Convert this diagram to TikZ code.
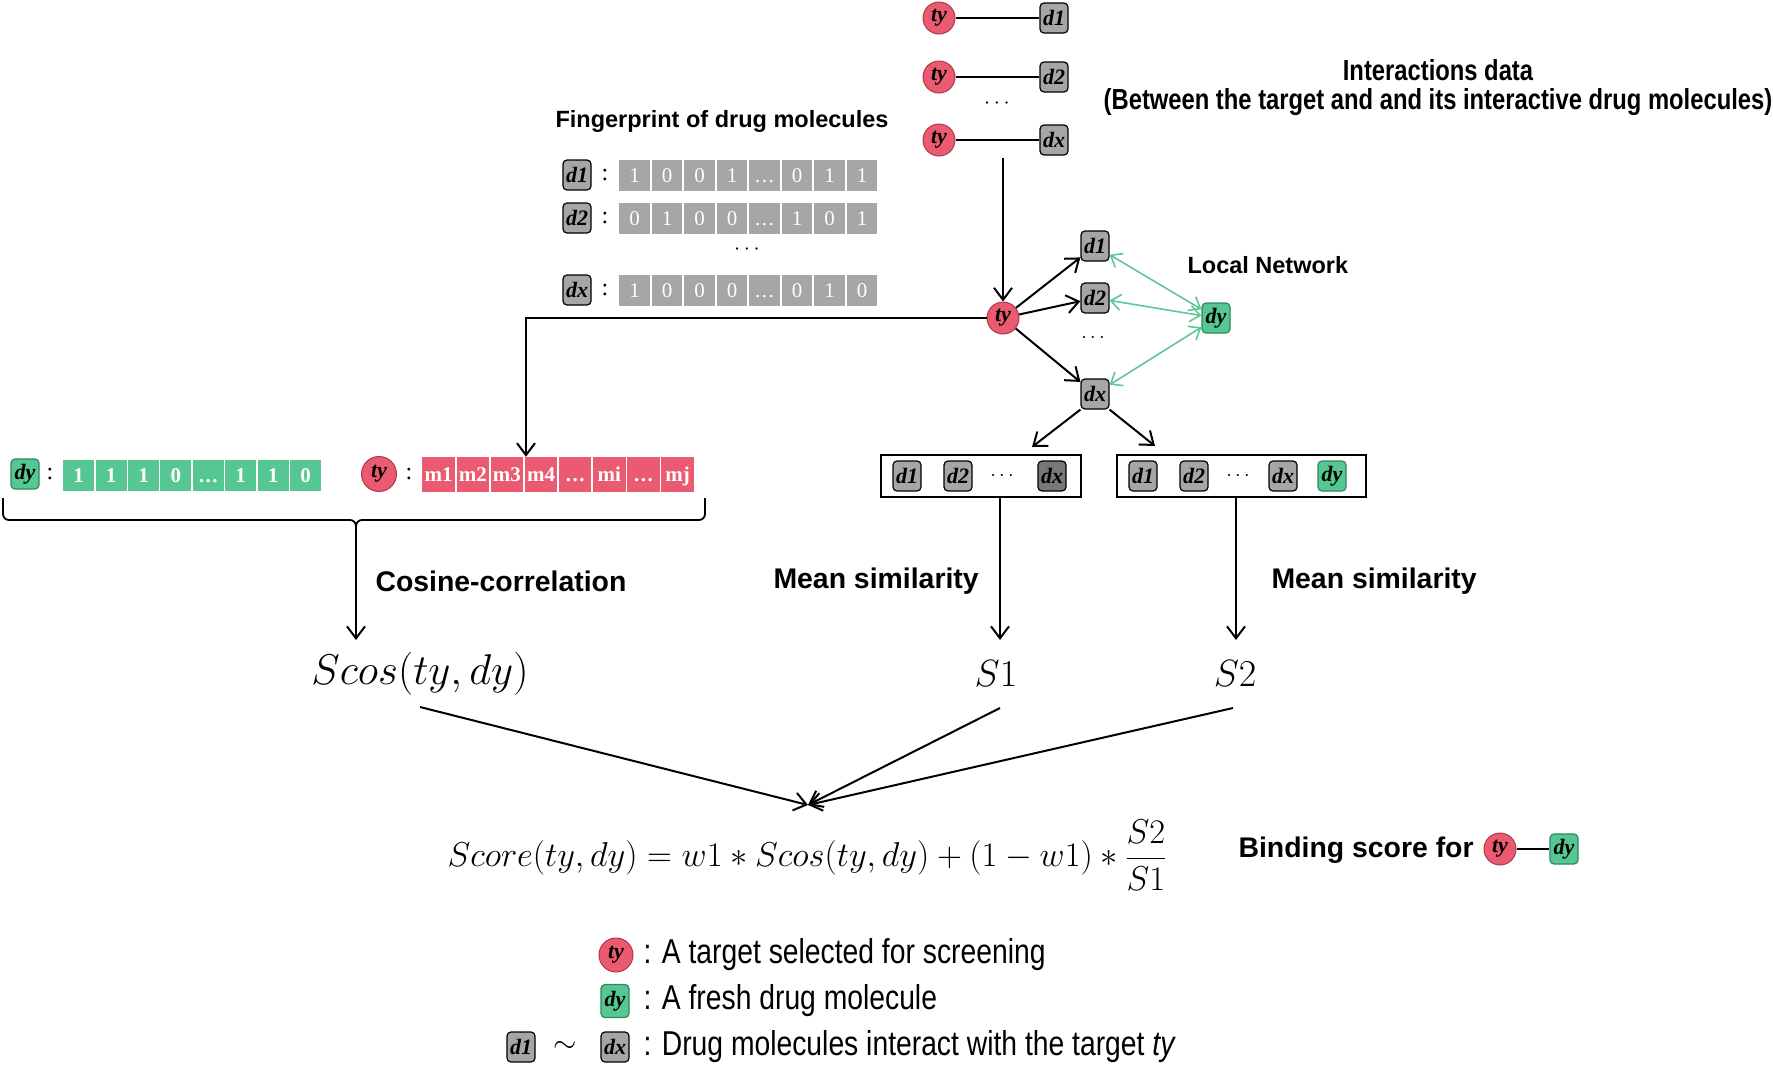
\RequirePackage{fix-cm}
\documentclass[tikz,border=0pt]{standalone}
\usepackage[no-math]{fontspec}
\usepackage{tikz}
\usetikzlibrary{arrows.meta}
\setmainfont{Liberation Sans}
\newfontfamily\serf{Liberation Serif}
\newfontfamily\narrowsans{Liberation Sans}[FakeStretch=0.82]
\def\headfont{\fontsize{23.5}{28}\selectfont\bfseries}
\def\stepfont{\fontsize{28.4}{34}\selectfont\bfseries}
\def\molfont{\fontsize{22}{24}\selectfont\serf\bfseries\itshape}
\def\cellfont{\fontsize{21}{24}\selectfont\serf}
\def\legfont{\fontsize{34.5}{38}\selectfont\narrowsans}
\newcommand\dotcell{.\kern1.5pt.\kern1.5pt.}

\definecolor{tyred}{RGB}{234,90,112}
\definecolor{tyedge}{RGB}{175,55,75}
\definecolor{dygreen}{RGB}{86,199,146}
\definecolor{dyedge}{RGB}{45,135,95}
\definecolor{drgrey}{RGB}{166,166,166}
\definecolor{dxdark}{RGB}{120,120,120}
\definecolor{linkgreen}{RGB}{95,200,150}

\tikzset{
  tyc/.style={circle, fill=tyred, draw=tyedge, line width=1pt,
    minimum size=32pt, inner sep=0pt, font=\molfont},
  drug/.style={rectangle, rounded corners=4pt, fill=drgrey, draw=black,
    line width=1.2pt, minimum width=28pt, minimum height=30pt,
    inner sep=0pt, font=\molfont},
  fresh/.style={drug, fill=dygreen, draw=dyedge},
  fpcell/.style={rectangle, fill=drgrey, text=white, minimum width=30.5pt,
    minimum height=31pt, inner sep=0pt, text height=14pt, text depth=0pt,
    font=\cellfont},
  arr/.style={-{Straight Barb[length=12pt,width=18pt]}, line width=2pt},
  link/.style={{Straight Barb[length=10pt,width=16pt]}-{Straight Barb[length=10pt,width=16pt]},
    draw=linkgreen, line width=1.6pt},
}

\begin{document}
\begin{tikzpicture}[x=1pt, y=-1pt]
  \useasboundingbox (0,0) rectangle (1773,1066);

  % interactions data
  \foreach \r/\yy/\lab in {1/18/d1, 2/77/d2, 3/140/dx} {
    \node[tyc] (pt\r) at (939,\yy) {ty};
    \node[drug] (pd\r) at (1054,\yy) {\lab};
    \draw[line width=2pt] (pt\r) -- (pd\r);
  }
  \node (pdots) at (997,104) {\fontsize{22}{22}\selectfont$\cdots$};
  \node[align=center, font=\fontsize{29}{29}\selectfont\narrowsans\bfseries] (inter) at (1438,88)
    {Interactions data\\(Between the target and and its interactive drug molecules)};

  % fingerprints
  \node[font=\headfont] (fptitle) at (722,121) {Fingerprint of drug molecules};
  \foreach \r/\yy/\lab/\bits in {1/175/d1/{1,0,0,1,\dotcell,0,1,1},
      2/218/d2/{0,1,0,0,\dotcell,1,0,1}, 3/290/dx/{1,0,0,0,\dotcell,0,1,0}} {
    \node[drug] (fd\r) at (577,\yy) {\lab};
    \node[font=\fontsize{24}{24}\selectfont\serf] (fc\r) at (605,\yy) {:};
    \foreach \v [count=\i] in \bits
      \node[fpcell] (fb\r\i) at ({634.5+32.5*(\i-1)},\yy) {\v};
  }
  \node (fdots) at (747,250) {\fontsize{22}{22}\selectfont$\cdots$};

  % local network
  \node[tyc] (ty) at (1003,318) {ty};
  \coordinate (feed) at (1003,158);
  \draw[arr] (feed) -- (ty);
  \node[drug] (n1) at (1095,246) {d1};
  \node[drug] (n2) at (1095,298) {d2};
  \node (ndots) at (1093,338) {\fontsize{20}{20}\selectfont$\cdots$};
  \node[drug] (nx) at (1095,394) {dx};
  \node[fresh] (ndy) at (1216,318) {dy};
  \draw[arr] (ty) -- (n1);
  \draw[arr] (ty) -- (n2);
  \draw[arr] (ty) -- (nx);
  \draw[link] (n1) -- (ndy);
  \draw[link] (n2) -- (ndy);
  \draw[link] (nx) -- (ndy);
  \node[font=\headfont, anchor=west] (localnet) at (1184,265) {Local Network};

  % feature rows
  \node[fresh] (ldy) at (25,474) {dy};
  \node[font=\fontsize{24}{24}\selectfont\serf] (lc1) at (50,474) {:};
  \foreach \v [count=\i] in {1,1,1,0,\dotcell,1,1,0}
    \node[fpcell, fill=dygreen, minimum width=31pt, font=\cellfont\bfseries] (g\i) at ({78.7+32.4*(\i-1)},475.5) {\v};
  \node[tyc, minimum size=35pt] (lty) at (379,474) {ty};
  \node[font=\fontsize{24}{24}\selectfont\serf] (lc2) at (409,474) {:};
  \foreach \v [count=\i] in {m1,m2,m3,m4,\dotcell,mi,\dotcell,mj}
    \node[fpcell, fill=tyred, minimum width=32.5pt, minimum height=35pt, font=\cellfont\bfseries] (r\i) at ({438.6+34.15*(\i-1)},474.5) {\v};
  \coordinate (bend) at (526,318);
  \draw[arr] (ty.west) -- (bend) -- (bend |- r4.north);

  % brace and cosine
  \coordinate (brace) at (356,530);
  \draw[line width=1.8pt, rounded corners=6pt] (3,498) |- (356,520) -- (brace);
  \draw[line width=1.8pt, rounded corners=6pt] (705,498) |- (356,520) -- (brace);
  \coordinate (cosin) at (356,640);
  \draw[arr] (brace) -- (cosin);
  \node[font=\stepfont, anchor=west] (coslab) at (372,581) {Cosine-correlation};
  \node (scos) at (420,674) {\fontsize{43}{48}\selectfont$Scos(ty,dy)$};

  % similarity boxes
  \coordinate (toB1) at (1032,447);
  \coordinate (toB2) at (1155,446);
  \draw[arr] (nx.south west) -- (toB1);
  \draw[arr] (nx.south east) -- (toB2);
  \node[draw, line width=2.5pt, minimum width=200pt, minimum height=42pt] (box1) at (981,476) {};
  \node[drug] (s1d1) at (907,476) {d1};
  \node[drug] (s1d2) at (958,476) {d2};
  \node (s1dots) at (1002,476) {\fontsize{20}{20}\selectfont$\cdots$};
  \node[drug, fill=dxdark] (s1dx) at (1052,476) {dx};
  \node[draw, line width=2.5pt, minimum width=249pt, minimum height=42pt] (box2) at (1241.5,476) {};
  \node[drug] (s2d1) at (1143,476) {d1};
  \node[drug] (s2d2) at (1194,476) {d2};
  \node (s2dots) at (1238,476) {\fontsize{20}{20}\selectfont$\cdots$};
  \node[drug] (s2dx) at (1283,476) {dx};
  \node[fresh] (s2dy) at (1332,476) {dy};

  \coordinate (b1out) at (1000,498);
  \coordinate (b1in) at (1000,640);
  \coordinate (b2out) at (1236,498);
  \coordinate (b2in) at (1236,640);
  \draw[arr] (b1out) -- (b1in);
  \draw[arr] (b2out) -- (b2in);
  \node[font=\stepfont, anchor=west] (mean1) at (770,581) {Mean similarity};
  \node[font=\stepfont, anchor=west] (mean2) at (1268,581) {Mean similarity};
  \node (s1) at (996,674) {\fontsize{38}{44}\selectfont$S1$};
  \node (s2) at (1235,674) {\fontsize{38}{44}\selectfont$S2$};

  % score
  \coordinate (c1) at (420,707);
  \coordinate (c2) at (1000,708);
  \coordinate (c3) at (1233,708);
  \coordinate (meet) at (808,805);
  \draw[arr] (c1) -- (meet);
  \draw[arr] (c2) -- (meet);
  \draw[arr] (c3) -- (meet);
  \node (score) at (807,855) {\fontsize{34.5}{40}\selectfont
    $Score(ty,dy)=w1*Scos(ty,dy)+(1-w1)*\displaystyle\frac{S2}{S1}$};
  \node[font=\stepfont, anchor=west] (bind) at (1235,850) {Binding score for};
  \node[tyc] (bty) at (1500,849) {ty};
  \node[fresh] (bdy) at (1564,849) {dy};
  \draw[line width=2pt] (bty) -- (bdy);

  % legend
  \node[tyc, minimum size=34pt] (kty) at (616,955) {ty};
  \node[font=\legfont, anchor=west] (ktxt1) at (640,955) {: A target selected for screening};
  \node[fresh, minimum height=33pt] (kdy) at (615,1001) {dy};
  \node[font=\legfont, anchor=west] (ktxt2) at (640,1001) {: A fresh drug molecule};
  \node[drug] (kd1) at (521,1047) {d1};
  \node (ktilde) at (565,1047) {\fontsize{30}{30}\selectfont$\sim$};
  \node[drug] (kdx) at (615,1047) {dx};
  \node[font=\legfont, anchor=west] (ktxt3) at (640,1047) {: Drug molecules interact with the target \textit{ty}};
\end{tikzpicture}
\end{document}
